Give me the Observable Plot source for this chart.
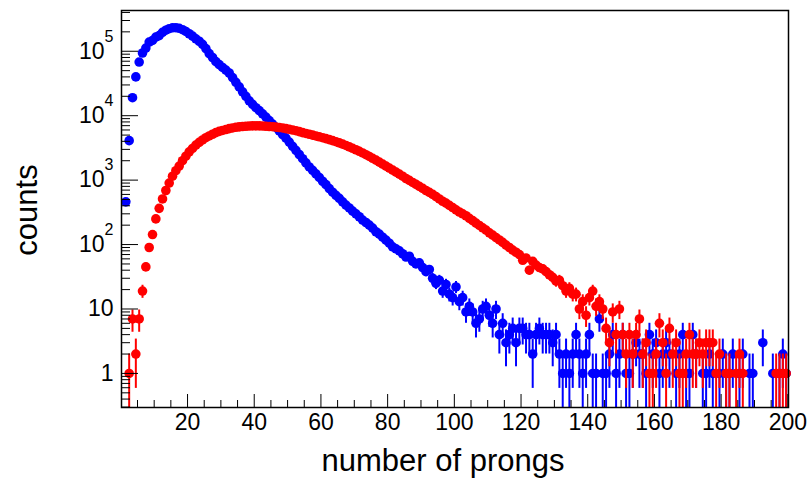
<!DOCTYPE html>
<html><head><meta charset="utf-8">
<script src="https://cdn.jsdelivr.net/npm/d3@7"></script>
<script src="https://cdn.jsdelivr.net/npm/@observablehq/plot@0.6"></script>
<style>body{margin:0;background:#fff;} #chart svg{display:block;}</style>
</head><body><div id="chart"></div>
<script>
// counts per bin; bin i covers [i, i+1)
const blueCounts = [0,460,4100,19000,40000,68000,94000,112000,139000,147000,
 166000,175000,197000,212000,224000,231000,232000,227000,216000,203000,
 187000,172000,156000,143000,128000,110000,92000,80000,69000,62000,
 56000,51000,46000,39000,33000,28000,23500,20000,17000,15000,
 13300,12000,10700,9500,8400,7400,6600,5800,5100,4500,
 3900,3350,2900,2500,2150,1850,1600,1420,1250,1100,
 960,850,740,650,580,520,460,410,370,330,
 300,270,240,220,200,180,158,145,130,117,
 105,92,86,80,72,64,66,55,50,52,
 44,38,41,30,25,28,19,24,17,15,
 22,13,15,9,11,9,6,7,10,11,
 8,6,10,4,6,3,4,5,3,5,
 5,4,4,2,4,5,4,4,4,3,
 4,2,1,2,1,2,4,2,1,2,
 4,1,1,7,1,1,2,4,1,2,
 4,1,1,2,3,2,2,1,4,2,
 3,1,2,3,2,0,1,2,4,1,
 1,4,2,0,1,1,2,1,0,1,
 2,1,1,2,0,1,2,0,1,1,
 0,0,3,0,0,1,0,1,2,1];
const redCounts = [0,0,1,7,2,7,19,45,90,143,
 250,365,510,690,900,1150,1400,1650,2000,2350,
 2750,3100,3500,3850,4200,4550,4850,5150,5450,5700,
 5900,6100,6300,6450,6600,6700,6800,6850,6900,6950,
 6950,6950,6900,6850,6800,6750,6650,6550,6450,6300,
 6150,6000,5850,5650,5450,5300,5150,5000,4850,4700,
 4550,4400,4250,4100,3950,3780,3620,3450,3280,3120,
 2960,2800,2640,2480,2330,2180,2040,1900,1770,1650,
 1540,1430,1330,1240,1150,1060,990,920,860,800,
 745,690,645,600,555,510,470,440,405,375,
 345,320,300,280,255,235,215,198,182,168,
 152,140,128,118,108,98,90,82,76,70,
 57,62,40,55,48,44,42,38,34,31,
 27,28,23,19,21,17,17,10,13,8,
 15,19,11,13,10,5,3,9,4,10,
 4,2,4,2,4,7,2,3,1,1,
 2,6,3,1,5,2,3,1,1,2,
 4,2,2,3,2,3,3,3,1,2,
 0,1,1,0,1,2,1,0,0,0,
 0,0,0,0,0,0,1,1,1,1];
const xMajorTicks = [20,40,60,80,100,120,140,160,180,200];
const xMinorTicks = [5,10,15,25,30,35,45,50,55,65,70,75,85,90,95,105,110,115,125,130,135,145,150,155,165,170,175,185,190,195];
const yMajorTicks = [1,10,100,1000,10000,100000];
const yTickLabels = ["1","10","10^2","10^3","10^4","10^5"];
const yMinorMultipliers = [2,3,4,5,6,7,8,9];
const yMinorTicks = [0.3,0.4,0.5,0.6,0.7,0.8,0.9]
  .concat(yMajorTicks.flatMap(d => yMinorMultipliers.map(m => m*d)).filter(v => v < 4.29e5));
const xTitle = "number of prongs";
const yTitle = "counts";

const W = 810, H = 479, mL = 121, mR = 22, mT = 10, mB = 72;
const fw = W - mL - mR, fh = H - mT - mB;

function rows(counts) {
  const out = [];
  counts.forEach((v, i) => {
    if (v > 0) {
      const e = Math.sqrt(v);
      out.push({x: i + 0.5, y: v, lo: Math.max(v - e, 0.01), hi: v + e});
    }
  });
  return out;
}
const blue = rows(blueCounts), red = rows(redCounts);

const plot = Plot.plot({
  width: W, height: H,
  marginLeft: mL, marginRight: mR, marginTop: mT, marginBottom: mB,
  style: {fontFamily: "'Liberation Sans', Arial, Helvetica, sans-serif", fontSize: "23px", color: "black", background: "white"},
  x: {domain: [0.2, 200.2]},
  y: {type: "log", domain: [0.296, 4.29e5]},
  marks: [
    Plot.ruleX(blue, {x: "x", y1: "lo", y2: "hi", stroke: "#0000ff", strokeWidth: 2, clip: true}),
    Plot.dot(blue, {x: "x", y: "y", r: 4.8, fill: "#0000ff"}),
    Plot.ruleX(red, {x: "x", y1: "lo", y2: "hi", stroke: "#ff0000", strokeWidth: 2, clip: true}),
    Plot.dot(red, {x: "x", y: "y", r: 4.8, fill: "#ff0000"}),
    Plot.ruleX(xMajorTicks, {x: d => d, insetTop: fh - 13, stroke: "black", strokeWidth: 1}),
    Plot.ruleX(xMinorTicks, {x: d => d, insetTop: fh - 7, stroke: "black", strokeWidth: 1}),
    Plot.ruleY(yMajorTicks, {y: d => d, insetRight: fw - 17, stroke: "black", strokeWidth: 1}),
    Plot.ruleY(yMinorTicks, {y: d => d, insetRight: fw - 9, stroke: "black", strokeWidth: 1}),
    Plot.frame({stroke: "black", strokeWidth: 1.5}),
    Plot.axisX({ticks: xMajorTicks, tickSize: 0, tickPadding: 6, tickFormat: d => String(d), label: null, fontSize: 23}),
    Plot.axisY({ticks: yMajorTicks, tickSize: 0, tickPadding: 8, tickFormat: (d, i) => yTickLabels[yMajorTicks.indexOf(d)], label: null, fontSize: 23}),
    Plot.text([xTitle], {frameAnchor: "bottom", text: d => d, dy: 63, dx: -12, fontSize: 31, lineAnchor: "bottom", textAnchor: "middle"}),
    Plot.text([yTitle], {frameAnchor: "left", text: d => d, dx: -85, dy: 1, rotate: -90, fontSize: 31, lineAnchor: "bottom", textAnchor: "middle"})
  ]
});
document.getElementById("chart").appendChild(plot);

// ROOT-style superscripts for 10^k labels
d3.select(plot).selectAll('g[aria-label="y-axis tick label"] text').each(function() {
  const t = this.textContent;
  const m = t.match(/^10\^(\d+)$/);
  if (m) {
    const sel = d3.select(this);
    sel.text(null);
    sel.append("tspan").text("10");
    sel.append("tspan").attr("dy", -17).attr("font-size", 16).text(m[1]);
  }
});
</script>
</body></html>
